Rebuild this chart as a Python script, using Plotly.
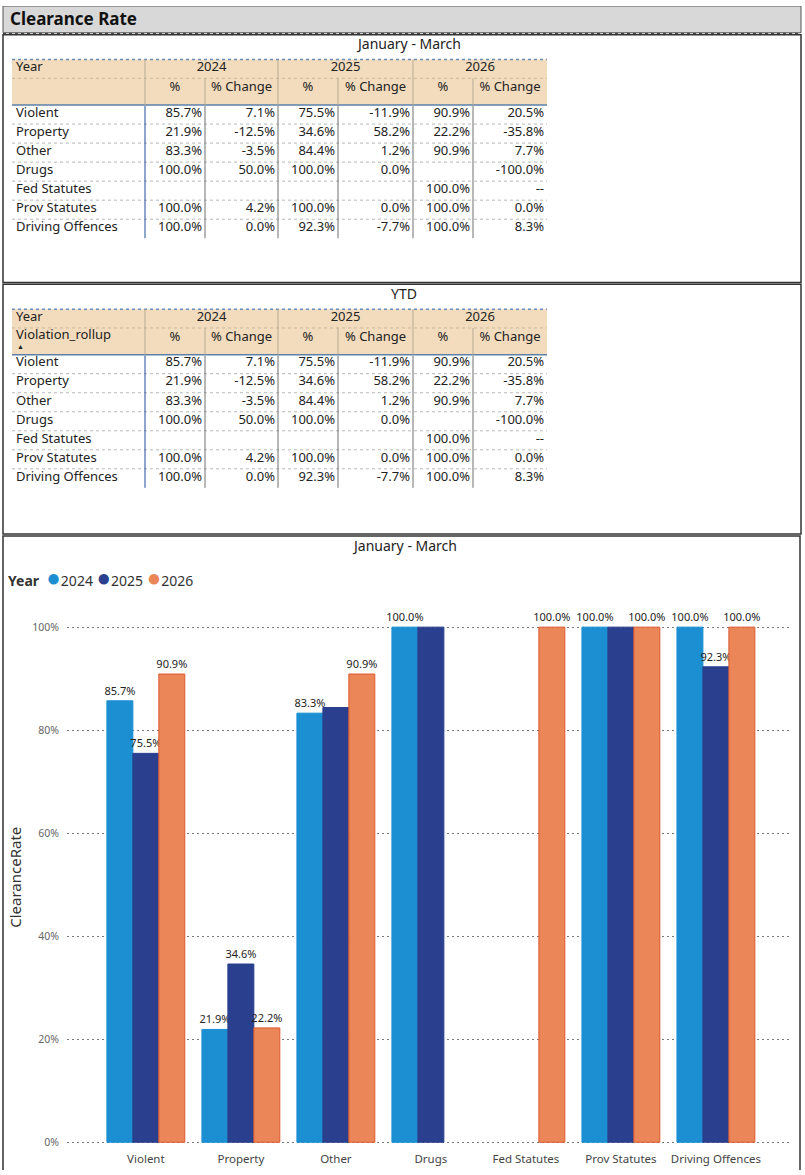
import plotly.graph_objects as go

W, H = 805, 1175
FONT = "Noto Sans, Open Sans, sans-serif"

categories = ["Violent", "Property", "Other", "Drugs", "Fed Statutes", "Prov Statutes", "Driving Offences"]
years = ["2024", "2025", "2026"]

# clearance rate (%) - January to March
rate_2024 = [85.7, 21.9, 83.3, 100.0, None, 100.0, 100.0]
rate_2025 = [75.5, 34.6, 84.4, 100.0, None, 100.0, 92.3]
rate_2026 = [90.9, 22.2, 90.9, None, 100.0, 100.0, 100.0]

# % change vs previous year - January to March
change_2024 = [7.1, -12.5, -3.5, 50.0, None, 4.2, 0.0]
change_2025 = [-11.9, 58.2, 1.2, 0.0, None, 0.0, -7.7]
change_2026 = [20.5, -35.8, 7.7, -100.0, None, 0.0, 8.3]

# YTD (same figures as Jan-Mar in the report)
ytd_rate_2024 = [85.7, 21.9, 83.3, 100.0, None, 100.0, 100.0]
ytd_rate_2025 = [75.5, 34.6, 84.4, 100.0, None, 100.0, 92.3]
ytd_rate_2026 = [90.9, 22.2, 90.9, None, 100.0, 100.0, 100.0]
ytd_change_2024 = [7.1, -12.5, -3.5, 50.0, None, 4.2, 0.0]
ytd_change_2025 = [-11.9, 58.2, 1.2, 0.0, None, 0.0, -7.7]
ytd_change_2026 = [20.5, -35.8, 7.7, -100.0, None, 0.0, 8.3]

y_ticks = [0, 20, 40, 60, 80, 100]

# data labels the report hides because they collide
hidden_labels = {("Other", "2025"), ("Drugs", "2025"), ("Prov Statutes", "2025")}

COLORS = {"2024": "#1b8fd2", "2025": "#2a3f8d", "2026": "#ea8658"}
EDGES = {"2024": "#1b8fd2", "2025": "#2a3f8d", "2026": "#de5a30"}

# table geometry (pixels)
COL_EDGES = [12, 145, 205, 278, 338, 413, 473, 547]
ROW_H = 19.2
TEXT_DY = -1


def fmt_rate(v):
    return "" if v is None else f"{v:.1f}%"


def fmt_change(c, r):
    if c is None:
        return "--" if r is not None else ""
    return f"{c:.1f}%"


def px(y):
    return 1 - y / H


fig = go.Figure()
shapes = []


def line(x0, y0, x1, y1, color, width=1, dash="solid"):
    shapes.append(dict(type="line", xref="x2", yref="y2", x0=x0, y0=y0, x1=x1, y1=y1,
                       line=dict(color=color, width=width, dash=dash)))


def rect(x0, y0, x1, y1, fill=None, color=None, width=1, layer="below"):
    shapes.append(dict(type="rect", xref="x2", yref="y2", x0=x0, y0=y0, x1=x1, y1=y1, layer=layer,
                       fillcolor=fill or "rgba(0,0,0,0)",
                       line=dict(color=color or "rgba(0,0,0,0)", width=width)))


def add_table(top, rates, changes, corner_label):
    h1, h2 = top + 19, top + 46
    body_bottom = h2 + ROW_H * len(categories)
    left, right = COL_EDGES[0], COL_EDGES[-1]
    rect(left, top, right, h2, fill="#f2dcbd")
    line(left, top, right, top, "#6b8db5", 1.5, "dot")
    line(left, h1, right, h1, "#c8b79c", 1, "dot")
    line(left, h2, right, h2, "#5b80aa", 1.5)
    # header separators
    for i, e in enumerate(COL_EDGES[1:-1], start=1):
        if i % 2 == 1:
            line(e, top, e, h2, "#b9ab95", 1)
        else:
            line(e, h1, e, h2, "#b9ab95", 1)
    # body separators
    for r in range(1, len(categories)):
        y = h2 + r * ROW_H
        line(left, y, right, y, "#b8b8b8", 1, "dot")
    for i, e in enumerate(COL_EDGES[1:-1], start=1):
        line(e, h2 + 1, e, body_bottom, "#1f4e9a" if i == 1 else "#707070", 1)

    xs, ys, ts, pos, sizes = [], [], [], [], []

    def cell(x, y, t, p, s=13):
        xs.append(x); ys.append(y + TEXT_DY); ts.append(t); pos.append(p); sizes.append(s)

    cell(left + 4, top + 9.5, "Year", "middle right")
    for k, yr in enumerate(years):
        a, b = COL_EDGES[1 + 2 * k], COL_EDGES[3 + 2 * k]
        cell((a + b) / 2, top + 9.5, yr, "middle center")
        cell((COL_EDGES[1 + 2 * k] + COL_EDGES[2 + 2 * k]) / 2, top + 30, "%", "middle center")
        cell((COL_EDGES[2 + 2 * k] + COL_EDGES[3 + 2 * k]) / 2, top + 30, "% Change", "middle center")
    if corner_label:
        cell(left + 4, top + 28, corner_label, "middle right")
        cell(left + 5, top + 39, "▲", "middle right", 7)
    for r, cat in enumerate(categories):
        y = h2 + (r + 0.5) * ROW_H
        cell(left + 4, y, cat, "middle right")
        for k in range(3):
            rv, cv = rates[k][r], changes[k][r]
            cell(COL_EDGES[2 + 2 * k] - 3, y, fmt_rate(rv), "middle left")
            cell(COL_EDGES[3 + 2 * k] - 3, y, fmt_change(cv, rv), "middle left")

    fig.add_trace(go.Scatter(
        x=xs, y=ys, text=ts, mode="text", textposition=pos,
        textfont=dict(family=FONT, size=sizes, color="#222222"),
        xaxis="x2", yaxis="y2", showlegend=False, hoverinfo="skip",
    ))


# page frame: title bar and three panels
rect(3, 0, 801, 27, fill="#d8d8d8", color="#555555", width=1)
line(3, 28, 801, 28, "#444444", 1.5, "dot")
rect(3, 29, 801, 279, color="#333333", width=1.5, layer="above")
rect(3, 281, 801, 533, color="#333333", width=1.5, layer="above")
rect(3, 535, 800, 1180, color="#333333", width=1.5, layer="above")

add_table(54, [rate_2024, rate_2025, rate_2026], [change_2024, change_2025, change_2026], None)
add_table(306, [ytd_rate_2024, ytd_rate_2025, ytd_rate_2026],
          [ytd_change_2024, ytd_change_2025, ytd_change_2026], "Violation_rollup")

# clustered bar chart
for yr, vals in zip(years, [rate_2024, rate_2025, rate_2026]):
    labels = ["" if (v is None or (c, yr) in hidden_labels) else fmt_rate(v)
              for c, v in zip(categories, vals)]
    fig.add_trace(go.Bar(
        x=categories, y=vals, name=yr, text=labels, textposition="outside",
        cliponaxis=False, constraintext="none",
        textfont=dict(family=FONT, size=11, color="#252423"),
        marker=dict(color=COLORS[yr], line=dict(color=EDGES[yr], width=1)),
        showlegend=False,
    ))

legend_text = "<b>Year</b>  " + " ".join(
    f"<span style='color:{COLORS[yr]};font-size:24px'>●</span>{yr}" for yr in years)

annotations = [
    dict(text="<b>Clearance Rate</b>", x=8 / W, y=px(13), xanchor="left", yanchor="middle",
         font=dict(family=FONT, size=17, color="#111111")),
    dict(text="January - March", x=408 / W, y=px(38), xanchor="center", yanchor="middle",
         font=dict(family=FONT, size=14, color="#222222")),
    dict(text="YTD", x=404 / W, y=px(290), xanchor="center", yanchor="middle",
         font=dict(family=FONT, size=14, color="#222222")),
    dict(text="January - March", x=404 / W, y=px(545), xanchor="center", yanchor="middle",
         font=dict(family=FONT, size=14, color="#222222")),
    dict(text=legend_text, x=6 / W, y=px(576), xanchor="left", yanchor="middle",
         font=dict(family=FONT, size=14, color="#333333")),
    dict(text="ClearanceRate", x=15 / W, y=px(880), xanchor="center", yanchor="middle",
         textangle=-90, font=dict(family=FONT, size=15, color="#333333")),
]
for a in annotations:
    a.update(xref="paper", yref="paper", showarrow=False)

# pad the value range a little so the 0% and 100% gridlines are still drawn
pad = 0.3
y_bottom, y_top = 1147 + pad * 5.2, 627 - pad * 5.2

fig.update_layout(
    width=W, height=H, margin=dict(l=0, r=0, t=0, b=0),
    paper_bgcolor="white", plot_bgcolor="rgba(0,0,0,0)",
    barmode="group", bargap=0.18, bargroupgap=0,
    shapes=shapes, annotations=annotations,
    xaxis=dict(domain=[67 / W, 790 / W], range=[-0.83, 6.78], showgrid=False, zeroline=False,
               showline=False, ticks="", ticklabelstandoff=7,
               tickfont=dict(family=FONT, size=11.5, color="#444444"), fixedrange=True),
    yaxis=dict(domain=[px(y_bottom), px(y_top)], range=[-pad, 100 + pad],
               tickvals=y_ticks, ticktext=[f"{v}%" for v in y_ticks],
               showgrid=True, gridcolor="#7a7a7a", griddash="2px,3px", gridwidth=1,
               zeroline=False, showline=False, ticklabelstandoff=7,
               tickfont=dict(family=FONT, size=10.5, color="#666666"), fixedrange=True),
    xaxis2=dict(domain=[0, 1], range=[0, W], visible=False, anchor="y2", fixedrange=True),
    yaxis2=dict(domain=[0, 1], range=[H, 0], visible=False, anchor="x2", fixedrange=True),
    font=dict(family=FONT),
)

fig.write_html("out.html", config={"displayModeBar": False},
               post_script="document.body.style.margin='0';")
